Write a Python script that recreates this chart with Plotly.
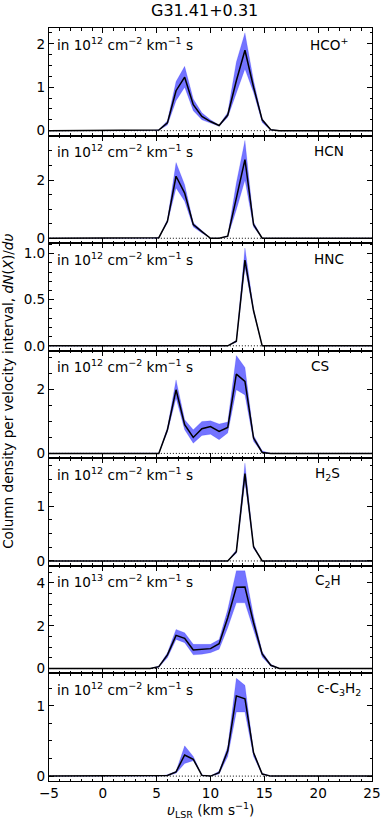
import plotly.graph_objects as go
from plotly.subplots import make_subplots

velocity = [-5.2, 4.4, 5.2, 6.0, 6.8, 7.6, 8.4, 9.2, 10.0, 10.8, 11.6, 12.4, 13.2, 14.0, 14.8, 15.6, 16.4, 25.2]

species = ["HCO<sup>+</sup>", "HCN", "HNC", "CS", "H<sub>2</sub>S", "C<sub>2</sub>H", "c-C<sub>3</sub>H<sub>2</sub>"]
unit_exp = ["12", "12", "12", "12", "12", "13", "12"]

hco_mid = [0, 0, 0.015, 0.18, 0.92, 1.23, 0.60, 0.33, 0.21, 0.12, 0.36, 1.15, 1.85, 1.00, 0.25, 0.02, 0, 0]
hco_hi = [0, 0, 0.02, 0.23, 1.13, 1.48, 0.73, 0.41, 0.25, 0.13, 0.42, 1.58, 2.25, 1.15, 0.28, 0.03, 0, 0]
hco_lo = [0, 0, 0.01, 0.13, 0.69, 1.00, 0.46, 0.25, 0.17, 0.10, 0.31, 0.85, 1.42, 0.88, 0.19, 0.01, 0, 0]

hcn_mid = [0, 0, 0.02, 0.58, 2.13, 1.55, 0.47, 0.23, 0, 0, 0.07, 1.38, 2.70, 0.47, 0, 0, 0, 0]
hcn_hi = [0, 0, 0.03, 0.64, 2.60, 1.84, 0.53, 0.27, 0, 0, 0.09, 1.90, 3.36, 0.55, 0.01, 0, 0, 0]
hcn_lo = [0, 0, 0.01, 0.53, 1.73, 1.27, 0.39, 0.18, 0, 0, 0.05, 0.98, 2.00, 0.39, 0, 0, 0, 0]

hnc_mid = [0, 0, 0, 0, 0, 0, 0, 0, 0, 0, 0, 0.05, 0.93, 0.38, 0, 0, 0, 0]
hnc_hi = [0, 0, 0, 0, 0, 0, 0, 0, 0, 0, 0, 0.06, 1.06, 0.40, 0, 0, 0, 0]
hnc_lo = [0, 0, 0, 0, 0, 0, 0, 0, 0, 0, 0, 0.04, 0.85, 0.36, 0, 0, 0, 0]

cs_mid = [0, 0, 0, 0.74, 1.99, 0.90, 0.50, 0.77, 0.84, 0.69, 0.81, 2.48, 2.25, 0.48, 0.03, 0, 0, 0]
cs_hi = [0, 0, 0.01, 0.81, 2.30, 1.05, 0.74, 1.00, 1.02, 0.92, 0.98, 3.06, 2.69, 0.56, 0.08, 0, 0, 0]
cs_lo = [0, 0, 0, 0.67, 1.73, 0.74, 0.32, 0.56, 0.60, 0.43, 0.64, 1.99, 1.83, 0.38, 0.01, 0, 0, 0]

h2s_mid = [0, 0, 0, 0, 0, 0, 0, 0, 0, 0, 0, 0.17, 1.60, 0.26, 0, 0, 0, 0]
h2s_hi = [0, 0, 0, 0, 0, 0, 0, 0, 0, 0, 0, 0.20, 1.79, 0.29, 0, 0, 0, 0]
h2s_lo = [0, 0, 0, 0, 0, 0, 0, 0, 0, 0, 0, 0.14, 1.45, 0.23, 0, 0, 0, 0]

c2h_mid = [0, 0, 0.09, 0.64, 1.55, 1.41, 0.87, 0.90, 0.93, 1.16, 2.37, 3.80, 3.81, 2.14, 0.68, 0.15, 0, 0]
c2h_hi = [0, 0, 0.12, 0.74, 1.83, 1.67, 1.13, 1.13, 1.13, 1.36, 2.76, 4.57, 4.57, 2.45, 0.79, 0.20, 0.01, 0]
c2h_lo = [0, 0, 0.06, 0.51, 1.36, 1.21, 0.64, 0.67, 0.74, 0.90, 1.91, 3.07, 3.07, 1.75, 0.54, 0.11, 0, 0]

c3h2_mid = [0, 0, 0, 0.01, 0.06, 0.30, 0.24, 0.01, 0, 0.05, 0.36, 1.14, 1.10, 0.33, 0.03, 0, 0, 0]
c3h2_hi = [0, 0, 0, 0.02, 0.07, 0.43, 0.28, 0.02, 0, 0.07, 0.42, 1.39, 1.29, 0.35, 0.04, 0, 0, 0]
c3h2_lo = [0, 0, 0, 0.005, 0.04, 0.18, 0.22, 0.005, 0, 0.03, 0.28, 0.91, 0.91, 0.28, 0.02, 0, 0, 0]

mids = [hco_mid, hcn_mid, hnc_mid, cs_mid, h2s_mid, c2h_mid, c3h2_mid]
his = [hco_hi, hcn_hi, hnc_hi, cs_hi, h2s_hi, c2h_hi, c3h2_hi]
los = [hco_lo, hcn_lo, hnc_lo, cs_lo, h2s_lo, c2h_lo, c3h2_lo]

y_major = [1, 2, 0.5, 2, 1, 2, 1]
y_minor = [0.25, 0.5, 0.1, 0.5, 0.25, 0.5, 0.25]

x_ticks = [-5, 0, 5, 10, 15, 20, 25]

# label horizontal centres (fraction of the panel width)
label_cx = [0.868, 0.867, 0.867, 0.839, 0.861, 0.863, 0.899]

FONT = "DejaVu Sans"
FS = 13.6
n = len(mids)
fig = make_subplots(rows=n, cols=1, shared_xaxes=True, vertical_spacing=0)

for i in range(n):
    r = i + 1
    fig.add_trace(go.Scatter(x=velocity, y=[0] * len(velocity), mode="lines",
                             line=dict(color="black", width=1, dash="1px,2px"),
                             showlegend=False, hoverinfo="skip"), row=r, col=1)
    fig.add_trace(go.Scatter(x=velocity, y=los[i], mode="lines",
                             line=dict(color="rgba(0,0,255,0.3)", width=0.5),
                             showlegend=False), row=r, col=1)
    fig.add_trace(go.Scatter(x=velocity, y=his[i], mode="lines", fill="tonexty",
                             fillcolor="rgba(0,0,255,0.55)",
                             line=dict(color="rgba(0,0,255,0.3)", width=0.5),
                             showlegend=False), row=r, col=1)
    fig.add_trace(go.Scatter(x=velocity, y=mids[i], mode="lines",
                             line=dict(color="black", width=1.5),
                             showlegend=False), row=r, col=1)
    M = max(his[i])
    fmt = ".1f" if y_major[i] < 1 else "d"
    fig.update_yaxes(range=[-0.05 * M, 1.05 * M], dtick=y_major[i], tick0=0,
                     tickformat=fmt,
                     ticks="inside", ticklen=5, tickwidth=1, tickcolor="black",
                     minor=dict(ticks="inside", ticklen=2.5, dtick=y_minor[i], tick0=0,
                                tickcolor="black", showgrid=False),
                     showline=True, linecolor="black", linewidth=1, mirror="ticks",
                     showgrid=False, zeroline=False,
                     tickfont=dict(family=FONT, size=FS, color="black"),
                     row=r, col=1)
    fig.update_xaxes(range=[-5, 25], tickvals=x_ticks,
                     ticks="inside", ticklen=5, tickwidth=1, tickcolor="black",
                     minor=dict(ticks="inside", ticklen=2.5, dtick=1, tick0=0,
                                tickcolor="black", showgrid=False),
                     showline=True, linecolor="black", linewidth=1, mirror="ticks",
                     showgrid=False, zeroline=False,
                     tickfont=dict(family=FONT, size=FS, color="black"),
                     row=r, col=1)
    suffix = "" if r == 1 else str(r)
    fig.add_annotation(xref=f"x{suffix} domain", yref=f"y{suffix} domain",
                       x=0.02, y=0.855, xanchor="left", yanchor="middle",
                       text=f"in 10<sup>{unit_exp[i]}</sup> cm<sup>\u22122</sup> km<sup>\u22121</sup> s",
                       showarrow=False, font=dict(family=FONT, size=FS, color="black"))
    fig.add_annotation(xref=f"x{suffix} domain", yref=f"y{suffix} domain",
                       x=label_cx[i], y=0.855, xanchor="center", yanchor="middle",
                       text=species[i],
                       showarrow=False, font=dict(family=FONT, size=FS, color="black"))

fig.add_annotation(xref="paper", yref="paper", x=0.482, y=1.023, xanchor="center", yanchor="middle",
                   text="G31.41+0.31", showarrow=False,
                   font=dict(family=FONT, size=16, color="black"))
fig.add_annotation(xref="paper", yref="paper", x=-0.125, y=0.5176, xanchor="center", yanchor="middle",
                   textangle=-90,
                   text="Column density per velocity interval, <i>dN</i>(<i>X</i>)/<i>d\u03c5</i>",
                   showarrow=False, font=dict(family=FONT, size=FS, color="black"))
fig.add_annotation(xref="paper", yref="paper", x=0.5, y=-0.039, xanchor="center", yanchor="middle",
                   text="<i>\u03c5</i><sub>LSR</sub> (km s<sup>\u22121</sup>)", showarrow=False,
                   font=dict(family=FONT, size=FS, color="black"))

fig.update_layout(width=390, height=820, margin=dict(l=49, r=9, t=28, b=39),
                  plot_bgcolor="white", paper_bgcolor="white",
                  font=dict(family=FONT, size=FS, color="black"))

fig.write_html("out.html", config={"displayModeBar": False},
               post_script="document.body.style.margin='0';document.body.style.padding='0';")
